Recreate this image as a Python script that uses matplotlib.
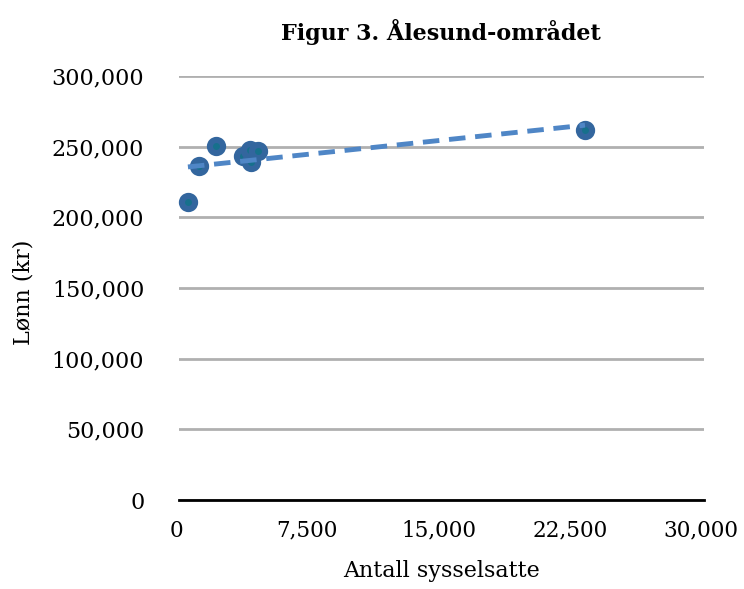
import numpy as np
import matplotlib
matplotlib.use('Agg')
import matplotlib.pyplot as plt
import matplotlib.transforms as mtransforms
from matplotlib.ticker import FuncFormatter

# antall sysselsatte og lønn (kr), lest av figuren
sysselsatte = [510, 1140, 2110, 3660, 4110, 4060, 4510, 23200]
lonn = [210800, 236300, 250500, 243400, 239100, 247600, 246900, 261800]

x_ticks = [0, 7500, 15000, 22500, 30000]
y_ticks = [0, 50000, 100000, 150000, 200000, 250000, 300000]

plt.rcParams['font.family'] = ['DejaVu Serif']

fig = plt.figure(figsize=(7.44, 5.89), dpi=100)
ax = fig.add_axes([0.2406, 0.151, 0.7056, 0.720])

ax.plot(sysselsatte, lonn, 'o', ms=9.5, mfc='#17708c', mec='#33669e', mew=4.4,
        zorder=3, clip_on=False)

# lineær trendlinje
k, m = np.polyfit(sysselsatte, lonn, 1)
xs = np.array([min(sysselsatte), max(sysselsatte)])
ax.plot(xs, k * xs + m, color='#4f86c6', lw=3.5, dashes=(3.4, 2.0), zorder=4)

ax.set_xlim(0, 30000)
ax.set_ylim(0, 300000)
ax.set_xticks(x_ticks)
ax.set_yticks(y_ticks)
fmt = FuncFormatter(lambda v, p: '{:,.0f}'.format(v))
ax.xaxis.set_major_formatter(fmt)
ax.yaxis.set_major_formatter(fmt)
ax.tick_params(length=0)
ax.tick_params(axis='x', labelsize=15.5, pad=14)
ax.tick_params(axis='y', labelsize=16, pad=25)
shift = mtransforms.ScaledTranslation(-3 / 100, 0, fig.dpi_scale_trans)
for t in ax.get_xticklabels():
    t.set_transform(t.get_transform() + shift)

for s in ['top', 'right', 'left']:
    ax.spines[s].set_visible(False)
ax.spines['bottom'].set_linewidth(2)
ax.spines['bottom'].set_color('black')

ax.yaxis.grid(True, color='#b0b0b0', lw=2)
ax.set_axisbelow(True)

fig.text(0.593, 0.012, 'Antall sysselsatte', fontsize=16, ha='center', va='bottom')
fig.text(0.032, 0.503, 'Lønn (kr)', fontsize=16, rotation=90, ha='center', va='center')
fig.text(0.593, 0.945, 'Figur 3. Ålesund-området', fontsize=16, fontweight='bold',
         ha='center', va='center')

fig.savefig('out.png', dpi=100)
